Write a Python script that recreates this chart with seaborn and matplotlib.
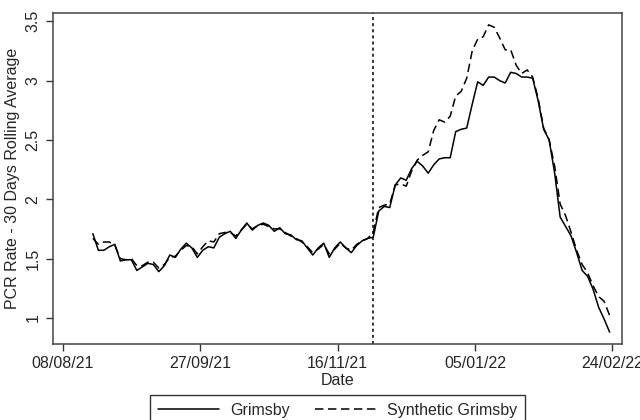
import matplotlib
matplotlib.use("Agg")
import matplotlib.pyplot as plt
import matplotlib.dates as mdates
import seaborn as sns
import pandas as pd

# ---- data ----
dates = pd.date_range("2021-08-19", periods=95, freq="2D")
grimsby = [
    1.71, 1.57, 1.57, 1.60, 1.62, 1.48, 1.49, 1.49, 1.40, 1.43,
    1.46, 1.45, 1.39, 1.44, 1.53, 1.51, 1.58, 1.63, 1.59, 1.51,
    1.57, 1.60, 1.59, 1.68, 1.71, 1.73, 1.67, 1.74, 1.80, 1.74,
    1.78, 1.80, 1.78, 1.73, 1.76, 1.71, 1.70, 1.66, 1.65, 1.59,
    1.53, 1.59, 1.63, 1.51, 1.59, 1.64, 1.59, 1.55, 1.61, 1.65,
    1.67, 1.68, 1.90, 1.94, 1.93, 2.12, 2.18, 2.16, 2.26, 2.32,
    2.28, 2.22, 2.29, 2.34, 2.35, 2.35, 2.57, 2.59, 2.60, 2.80,
    2.99, 2.96, 3.03, 3.03, 3.00, 2.98, 3.07, 3.06, 3.03, 3.03,
    3.02, 2.83, 2.59, 2.50, 2.22, 1.85, 1.77, 1.69, 1.55, 1.40,
    1.35, 1.24, 1.09, 0.99, 0.88,
]
synthetic = [
    1.67, 1.62, 1.64, 1.64, 1.61, 1.50, 1.49, 1.50, 1.44, 1.44,
    1.47, 1.47, 1.42, 1.45, 1.51, 1.52, 1.57, 1.61, 1.60, 1.54,
    1.60, 1.65, 1.64, 1.71, 1.72, 1.72, 1.69, 1.74, 1.79, 1.75,
    1.78, 1.79, 1.77, 1.75, 1.75, 1.72, 1.69, 1.67, 1.64, 1.60,
    1.55, 1.58, 1.62, 1.54, 1.58, 1.63, 1.59, 1.57, 1.62, 1.65,
    1.67, 1.72, 1.93, 1.95, 1.96, 2.12, 2.13, 2.11, 2.24, 2.33,
    2.37, 2.40, 2.58, 2.67, 2.65, 2.70, 2.87, 2.91, 3.02, 3.25,
    3.35, 3.37, 3.47, 3.45, 3.36, 3.26, 3.26, 3.13, 3.06, 3.09,
    3.03, 2.85, 2.60, 2.50, 2.28, 1.96, 1.86, 1.72, 1.57, 1.45,
    1.38, 1.27, 1.18, 1.14, 1.02,
]
series_names = ["Grimsby", "Synthetic Grimsby"]
tick_dates = ["2021-08-08", "2021-09-27", "2021-11-16", "2022-01-05", "2022-02-24"]
tick_labels = ["08/08/21", "27/09/21", "16/11/21", "05/01/22", "24/02/22"]
y_ticks = [1, 1.5, 2, 2.5, 3, 3.5]
y_tick_labels = ["1", "1.5", "2", "2.5", "3", "3.5"]
treatment_date = "2021-11-29"

df = pd.DataFrame({"Date": dates, series_names[0]: grimsby, series_names[1]: synthetic})
long = df.melt("Date", var_name="Series", value_name="Rate")

sns.set_style("white")
plt.rcParams["font.family"] = ["Liberation Sans", "DejaVu Sans"]

fig = plt.figure(figsize=(6.4, 4.2), dpi=100)
ax = fig.add_axes([53 / 640, 1 - 344 / 420, (622 - 53) / 640, (344 - 13) / 420])

sns.lineplot(
    data=long, x="Date", y="Rate", hue="Series", style="Series",
    palette=["black", "black"],
    dashes={series_names[0]: "", series_names[1]: (5.5, 3)},
    linewidth=1.1, ax=ax, legend=False,
)

ax.axvline(pd.Timestamp(treatment_date), color="black", lw=1.1, ls=(0, (2, 2)))

ax.set_xlim(pd.Timestamp("2021-08-04 12:00"), pd.Timestamp("2022-02-27 12:00"))
ax.set_ylim(0.78, 3.57)
ax.set_xticks([pd.Timestamp(d) for d in tick_dates])
ax.set_xticklabels(tick_labels)
ax.set_yticks(y_ticks)
ax.set_yticklabels(y_tick_labels, rotation=90, va="center")

ax.tick_params(axis="both", direction="out", length=5, width=1, color="#333333",
               labelsize=11.5, pad=4, bottom=True, left=True)
for s in ax.spines.values():
    s.set_color("#444444")
    s.set_linewidth(1.1)

ax.set_xlabel("Date", fontsize=11.5, labelpad=1)
ax.set_ylabel("PCR Rate - 30 Days Rolling Average", fontsize=11.5, labelpad=4)

from matplotlib.lines import Line2D
handles = [
    Line2D([], [], color="black", lw=1.1),
    Line2D([], [], color="black", lw=1.1, ls=(0, (5.5, 3))),
]
leg = fig.legend(handles, series_names, loc="upper center",
                 bbox_to_anchor=(337.5 / 640, 1 - 395 / 420), ncol=2,
                 frameon=True, fancybox=False, fontsize=11.5,
                 handlelength=3.8, handletextpad=0.7, columnspacing=1.6,
                 borderpad=0.5, borderaxespad=0)
leg.get_frame().set_edgecolor("black")
leg.get_frame().set_linewidth(1.0)

fig.savefig("out.png", dpi=100)
